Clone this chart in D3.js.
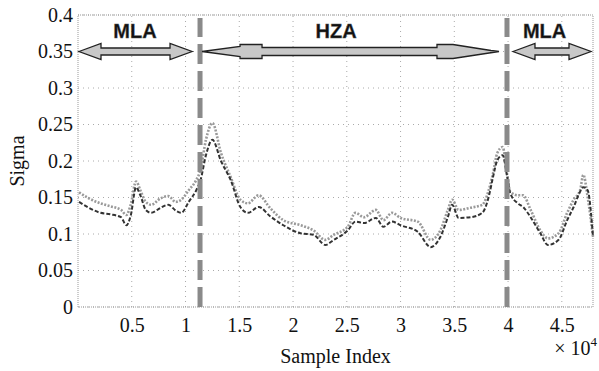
<!DOCTYPE html>
<html><head><meta charset="utf-8">
<script src="https://cdn.jsdelivr.net/npm/d3@7"></script>
<style>body{margin:0;background:#fff}svg{display:block}</style>
</head><body>
<svg id="c" width="599" height="371"></svg>
<script>
const sampleIdx = [100,1000,2100,3000,4000,4500,4900,5400,5800,6300,6800,7700,8400,9100,9600,10300,11000,11400,11900,12500,13300,14200,15100,15800,16800,17900,19100,20700,21900,23000,23800,25100,25800,26600,27700,28400,29200,30000,31600,32800,33700,34400,34800,35400,36500,37600,38200,38600,39000,39500,39900,40200,40900,41400,42100,43000,43700,44700,45500,46100,46700,47000,47400,47900];
const upperSigma = [0.157,0.149,0.142,0.138,0.133,0.126,0.140,0.172,0.160,0.144,0.140,0.149,0.152,0.144,0.147,0.160,0.174,0.188,0.229,0.252,0.211,0.178,0.147,0.142,0.153,0.135,0.119,0.112,0.105,0.092,0.099,0.110,0.129,0.123,0.133,0.119,0.129,0.122,0.117,0.092,0.105,0.133,0.147,0.133,0.136,0.140,0.160,0.183,0.211,0.219,0.183,0.158,0.153,0.153,0.133,0.105,0.094,0.101,0.129,0.147,0.160,0.181,0.151,0.096];
const lowerSigma = [0.144,0.136,0.129,0.127,0.123,0.112,0.125,0.164,0.153,0.133,0.129,0.136,0.140,0.132,0.129,0.144,0.160,0.174,0.208,0.229,0.200,0.174,0.137,0.129,0.137,0.124,0.112,0.101,0.099,0.085,0.092,0.105,0.117,0.115,0.122,0.110,0.117,0.112,0.103,0.082,0.096,0.123,0.140,0.122,0.123,0.129,0.151,0.178,0.201,0.208,0.180,0.156,0.142,0.137,0.123,0.101,0.085,0.092,0.119,0.137,0.158,0.164,0.160,0.096];
const xTicks = [5000,10000,15000,20000,25000,30000,35000,40000,45000];
const xTickLabels = ["0.5","1","1.5","2","2.5","3","3.5","4","4.5"];
const yTicks = [0,0.05,0.1,0.15,0.2,0.25,0.3,0.35,0.4];
const yTickLabels = ["0","0.05","0.1","0.15","0.2","0.25","0.3","0.35","0.4"];
const boundaries = [11350, 39900];
const regionLabels = ["MLA","HZA","MLA"];
const regionCenters = [5300, 24000, 43400];

const svg = d3.select("#c");
const W=599,H=371;
const m={l:78,r:6,t:15,b:64};
const x = d3.scaleLinear().domain([0,47900]).range([m.l,W-m.r]);
const y = d3.scaleLinear().domain([0,0.4]).range([H-m.b,m.t]);
const serif = "Liberation Serif, Times New Roman, DejaVu Serif, serif";
const sans = "Liberation Sans, Arial, sans-serif";
const gridCol = "#aaa";

const g = svg.append("g");
g.selectAll(".gx").data(xTicks).join("line")
  .attr("x1",d=>x(d)).attr("x2",d=>x(d)).attr("y1",y(0)).attr("y2",y(0.4))
  .attr("stroke",gridCol).attr("stroke-width",1).attr("stroke-dasharray","1,4");
g.selectAll(".gy").data(yTicks).join("line")
  .attr("x1",x.range()[0]).attr("x2",x.range()[1]).attr("y1",d=>y(d)).attr("y2",d=>y(d))
  .attr("stroke",gridCol).attr("stroke-width",1).attr("stroke-dasharray","1,4");
g.append("rect").attr("x",x.range()[0]).attr("y",y(0.4)).attr("width",x.range()[1]-x.range()[0]).attr("height",y(0)-y(0.4))
  .attr("fill","none").attr("stroke","#999").attr("stroke-width",1).attr("stroke-dasharray","1,1");

const xa = svg.append("g").attr("transform",`translate(0,${y(0)})`)
  .call(d3.axisBottom(x).tickValues(xTicks).tickFormat((d,i)=>xTickLabels[i]).tickSize(0).tickPadding(11));
xa.select(".domain").remove();
xa.selectAll("text").style("font-family",serif).style("font-size","20px").attr("fill","#111");
const ya = svg.append("g").attr("transform",`translate(${x.range()[0]},0)`)
  .call(d3.axisLeft(y).tickValues(yTicks).tickFormat((d,i)=>yTickLabels[i]).tickSize(0).tickPadding(5));
ya.select(".domain").remove();
ya.selectAll("text").style("font-family",serif).style("font-size","20px").attr("fill","#111");

svg.append("text").attr("x",(x.range()[0]+x.range()[1])/2).attr("y",363).attr("text-anchor","middle")
  .style("font-family",serif).style("font-size","20px").attr("fill","#111").text("Sample Index");
svg.append("text").attr("transform",`translate(24,${(y(0)+y(0.4))/2}) rotate(-90)`).attr("text-anchor","middle")
  .style("font-family",serif).style("font-size","20px").attr("fill","#111").text("Sigma");
const mult = svg.append("text").attr("x",W-2).attr("y",355).attr("text-anchor","end")
  .style("font-family",serif).style("font-size","20px").attr("fill","#111");
mult.append("tspan").text("× 10");
mult.append("tspan").attr("dy",-9).style("font-size","13px").text("4");

const pts = (vals)=>sampleIdx.map((s,i)=>[s,vals[i]]);
const line = d3.line().x(d=>x(d[0])).y(d=>y(d[1])).curve(d3.curveMonotoneX);
svg.append("path").datum(pts(upperSigma)).attr("d",line).attr("fill","none")
  .attr("stroke","#9a9a9a").attr("stroke-width",2.6).attr("stroke-dasharray","2,1.5");
svg.append("path").datum(pts(lowerSigma)).attr("d",line).attr("fill","none")
  .attr("stroke","#333").attr("stroke-width",2).attr("stroke-dasharray","4,2");

svg.selectAll(".bd").data(boundaries).join("line")
  .attr("x1",d=>x(d)).attr("x2",d=>x(d)).attr("y1",y(0)).attr("y2",y(0.4)+3)
  .attr("stroke","#8a8a8a").attr("stroke-width",5).attr("stroke-dasharray","20,7");

const ay = y(0.35);
function dblArrow(x0,x1){
  const hl=22, hh=8, sh=3.5;
  const p=[[x0,ay],[x0+hl,ay-hh],[x0+hl,ay-sh],[x1-hl,ay-sh],[x1-hl,ay-hh],[x1,ay],[x1-hl,ay+hh],[x1-hl,ay+sh],[x0+hl,ay+sh],[x0+hl,ay+hh]];
  svg.append("path").attr("d","M"+p.join("L")+"Z").attr("fill","#c8c8c8").attr("stroke","#222").attr("stroke-width",1.3);
}
dblArrow(x(0)+1, x(boundaries[0])-8);
dblArrow(x(boundaries[1])+6, x.range()[1]-2);
(function(){
  const x0=x(boundaries[0])+2, x1=x(boundaries[1])-8;
  const p=[[x0,ay],[x0+38,ay-5],[x0+38,ay-7],[x0+60,ay-7],[x0+60,ay-4],[x1-62,ay-4],[x1-62,ay-7],[x1-46,ay-7],[x1-8,ay-1],[x1,ay],
           [x1-46,ay+7],[x1-62,ay+7],[x1-62,ay+4],[x0+60,ay+4],[x0+60,ay+7],[x0+38,ay+7],[x0+38,ay+5]];
  svg.append("path").attr("d","M"+p.join("L")+"Z").attr("fill","#c8c8c8").attr("stroke","#222").attr("stroke-width",1.3);
})();
svg.selectAll(".rl").data(regionLabels).join("text")
  .attr("x",(d,i)=>x(regionCenters[i])).attr("y",38).attr("text-anchor","middle")
  .style("font-family",sans).style("font-weight","bold").style("font-size","20px").attr("fill","#111")
  .attr("stroke","#555").attr("stroke-width",0.4).text(d=>d);
</script>
</body></html>
